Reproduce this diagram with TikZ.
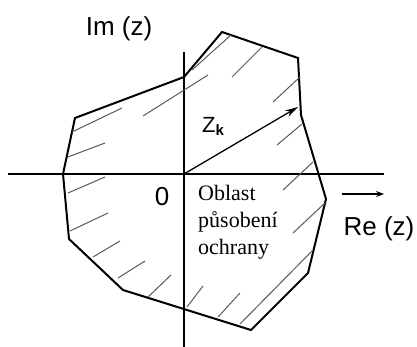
\documentclass[tikz,border=0pt]{standalone}
\usepackage{fontspec}
\setmainfont{Liberation Serif}
\newfontfamily\arialf{Liberation Sans}
\usetikzlibrary{arrows.meta}
\tikzset{
  edge/.style={line width=2pt, line join=miter, black},
  axis/.style={line width=1.6pt, black},
  hatch/.style={line width=1pt, black!65},
  lbl/.style={inner sep=0pt, font=\arialf\fontsize{26}{26}\selectfont},
  region/.style={inner sep=0pt, align=left, font=\fontsize{22}{27}\selectfont}
}
\begin{document}
\begin{tikzpicture}[x=1pt,y=-1pt]
\useasboundingbox (0,0) rectangle (417,347);
% axes
\coordinate (xl) at (8,174);
\coordinate (xr) at (384,174);
\coordinate (yt) at (184,52);
\coordinate (yb) at (184,347);
\coordinate (O) at (184,174);
\draw[axis] (xl) -- (xr);
\draw[axis] (yt) -- (yb);
% polygon vertices
\coordinate (p1) at (222,32);
\coordinate (p2) at (298,58);
\coordinate (p3) at (301,115);
\coordinate (p4) at (326,199);
\coordinate (p5) at (308,273);
\coordinate (p6) at (251,330);
\coordinate (p7) at (123,290);
\coordinate (p8) at (69,239);
\coordinate (p9) at (63,174);
\coordinate (p10) at (75,118);
\coordinate (p11) at (184,77);
\draw[edge] (p1) -- (p2) -- (p3) -- (p4) -- (p5) -- (p6) -- (p7) -- (p8) -- (p9) -- (p10) -- (p11) -- cycle;
% hatching
\draw[hatch] (68,193) -- (105,177);
\draw[hatch] (70,231) -- (108,213);
\draw[hatch] (93,257) -- (120,241);
\draw[hatch] (118,278) -- (145,261);
\draw[hatch] (148,297) -- (171,275);
\draw[hatch] (187,307) -- (203,286);
\draw[hatch] (218,317) -- (240,293);
\draw[hatch] (240,324) -- (313,250);
\draw[hatch] (293,233) -- (325,203);
\draw[hatch] (283,190) -- (313,162);
\draw[hatch] (277,145) -- (302,124);
\draw[hatch] (273,102) -- (300,77);
\draw[hatch] (232,77) -- (262,47);
\draw[hatch] (192,70) -- (231,35);
\draw[hatch] (143,116) -- (208,75);
\draw[hatch] (72,132) -- (122,108);
\draw[hatch] (68,157) -- (105,143);
% z_k arrow
\coordinate (zk) at (298,107);
\draw[line width=1.3pt, -{Stealth[length=13pt,width=7pt]}] (O) -- (zk);
% re arrow
\coordinate (ra) at (342,194);
\coordinate (rb) at (384,194);
\draw[line width=1.2pt, -{Stealth[length=8pt,width=6pt]}] (ra) -- (rb);
% labels
\node[lbl] (im) at (119,29) {Im (z)};
\node[lbl] (re) at (379,229) {Re (z)};
\node[lbl] (zero) at (162,197) {0};
\node[inner sep=0pt, anchor=base west] (zlab) at (202,133) {\arialf\fontsize{22}{22}\selectfont Z\raisebox{-3pt}{\fontsize{15}{15}\selectfont\bfseries k}};
\node[region, anchor=north west] (txt) at (198,185) {Oblast\\působení\\ochrany};
\end{tikzpicture}
\end{document}
